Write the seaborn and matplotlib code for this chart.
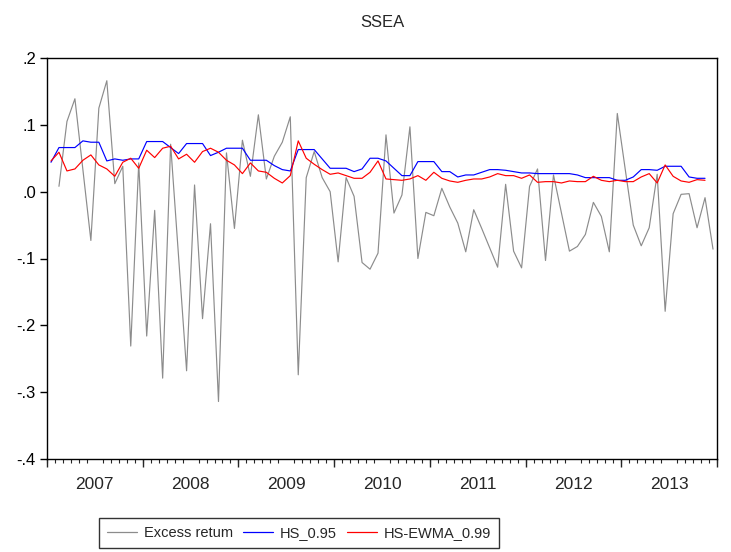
import numpy as np
import pandas as pd
import matplotlib
matplotlib.use("Agg")
import matplotlib.pyplot as plt
import seaborn as sns

# Monthly observations, Jan 2007 - Dec 2013
months = pd.period_range("2007-01", "2013-12", freq="M")
years = list(range(2007, 2014))

# Excess return (first month missing)
excess_return = [
    np.nan, 0.008, 0.105, 0.139, 0.033, -0.073, 0.125, 0.166, 0.012, 0.038,
    -0.231, 0.043, -0.216, -0.028, -0.279, 0.071, -0.098, -0.268, 0.010, -0.190,
    -0.048, -0.314, 0.058, -0.055, 0.077, 0.023, 0.115, 0.019, 0.053, 0.074,
    0.112, -0.274, 0.021, 0.060, 0.021, 0.000, -0.105, 0.021, -0.007, -0.106,
    -0.116, -0.092, 0.085, -0.032, -0.005, 0.097, -0.100, -0.031, -0.036, 0.005,
    -0.023, -0.047, -0.090, -0.027, -0.055, -0.084, -0.113, 0.011, -0.089, -0.114,
    0.008, 0.034, -0.103, 0.025, -0.032, -0.089, -0.082, -0.064, -0.016, -0.037,
    -0.090, 0.117, 0.033, -0.050, -0.081, -0.054, 0.026, -0.179, -0.033, -0.004,
    -0.003, -0.054, -0.009, -0.086,
]

# Historical-simulation VaR, 95% (last month missing)
hs_095 = [
    0.044, 0.066, 0.066, 0.066, 0.076, 0.074, 0.074, 0.046, 0.049, 0.047,
    0.049, 0.049, 0.075, 0.075, 0.075, 0.066, 0.057, 0.072, 0.072, 0.072,
    0.054, 0.059, 0.065, 0.065, 0.065, 0.047, 0.047, 0.047, 0.039, 0.033,
    0.031, 0.063, 0.063, 0.063, 0.049, 0.035, 0.035, 0.035, 0.030, 0.034,
    0.050, 0.050, 0.046, 0.035, 0.024, 0.024, 0.045, 0.045, 0.045, 0.030,
    0.030, 0.022, 0.025, 0.025, 0.029, 0.033, 0.033, 0.032, 0.030, 0.028,
    0.028, 0.027, 0.027, 0.027, 0.027, 0.027, 0.025, 0.021, 0.021, 0.021,
    0.021, 0.017, 0.017, 0.022, 0.033, 0.033, 0.032, 0.038, 0.038, 0.038,
    0.022, 0.020, 0.020, np.nan,
]

# HS with EWMA weighting, 99% (last month missing)
hs_ewma_099 = [
    0.046, 0.059, 0.031, 0.034, 0.047, 0.055, 0.040, 0.034, 0.023, 0.044,
    0.050, 0.035, 0.062, 0.051, 0.065, 0.068, 0.049, 0.056, 0.044, 0.060,
    0.065, 0.059, 0.047, 0.040, 0.027, 0.043, 0.031, 0.029, 0.020, 0.013,
    0.024, 0.076, 0.050, 0.041, 0.033, 0.026, 0.028, 0.024, 0.020, 0.020,
    0.029, 0.046, 0.019, 0.018, 0.017, 0.019, 0.024, 0.017, 0.029, 0.020,
    0.016, 0.014, 0.017, 0.019, 0.019, 0.022, 0.027, 0.024, 0.024, 0.020,
    0.025, 0.014, 0.015, 0.015, 0.013, 0.016, 0.015, 0.015, 0.023, 0.017,
    0.015, 0.017, 0.015, 0.015, 0.022, 0.027, 0.013, 0.040, 0.023, 0.016,
    0.014, 0.018, 0.017, np.nan,
]

series_names = ["Excess retum", "HS_0.95", "HS-EWMA_0.99"]
series_colors = ["#8c8c8c", "#0000ff", "#ff0000"]
y_ticks = [-0.4, -0.3, -0.2, -0.1, 0.0, 0.1, 0.2]
y_tick_labels = ["-.4", "-.3", "-.2", "-.1", ".0", ".1", ".2"]

pos = np.arange(len(months))
df = pd.concat(
    [
        pd.DataFrame({"t": pos, "value": vals, "series": name})
        for name, vals in zip(series_names, [excess_return, hs_095, hs_ewma_099])
    ],
    ignore_index=True,
)

sns.set_style("ticks")
plt.rcParams["font.family"] = ["Liberation Sans", "DejaVu Sans"]
plt.rcParams["font.size"] = 12

fig = plt.figure(figsize=(7.31, 5.52), dpi=100)
ax = fig.add_axes([47 / 731, 1 - 459 / 552, 670 / 731, 401 / 552])

sns.lineplot(
    data=df, x="t", y="value", hue="series", hue_order=series_names,
    palette=dict(zip(series_names, series_colors)), linewidth=0.85,
    ax=ax, legend=False, estimator=None, sort=False,
)

ax.set_xlim(-0.5, len(months) - 0.5)
ax.set_ylim(-0.4, 0.2)
ax.set_xlabel("")
ax.set_ylabel("")
ax.set_title("SSEA", fontsize=12, pad=22)

for side in ["left", "right", "top", "bottom"]:
    ax.spines[side].set_visible(True)
    ax.spines[side].set_color("black")
    ax.spines[side].set_linewidth(1.0)

# y axis
ax.set_yticks(y_ticks)
ax.set_yticklabels(y_tick_labels)
ax.tick_params(axis="y", which="major", direction="out", length=5, width=1,
               pad=3, labelsize=12, colors="black")

# x axis: year labels at mid-year, monthly minor ticks
year_centers = [12 * k + 5.5 for k in range(len(years))]
ax.set_xticks(year_centers)
ax.set_xticklabels([str(y) for y in years])
ax.set_xticks(np.arange(-0.5, len(months)), minor=True)
ax.tick_params(axis="x", which="major", length=0, pad=13, labelsize=12.5)
ax.tick_params(axis="x", which="minor", direction="out", length=3, width=0.8)

# longer ticks at year boundaries
sec = ax.secondary_xaxis("bottom")
sec.set_xticks([12 * k - 0.5 for k in range(len(years) + 1)])
sec.set_xticklabels([])
sec.tick_params(axis="x", direction="out", length=6, width=1)
sec.spines["bottom"].set_visible(False)

handles = [
    plt.Line2D([], [], color=c, linewidth=0.9) for c in series_colors
]
leg = fig.legend(
    handles, series_names, loc="center", ncol=3,
    bbox_to_anchor=(299 / 731, 1 - 533 / 552), frameon=True, fancybox=False,
    edgecolor="black", fontsize=10.5, handlelength=2.05, columnspacing=0.7,
    handletextpad=0.48, borderpad=0.55,
)
leg.get_frame().set_linewidth(1.0)

fig.savefig("out.png", dpi=100)
